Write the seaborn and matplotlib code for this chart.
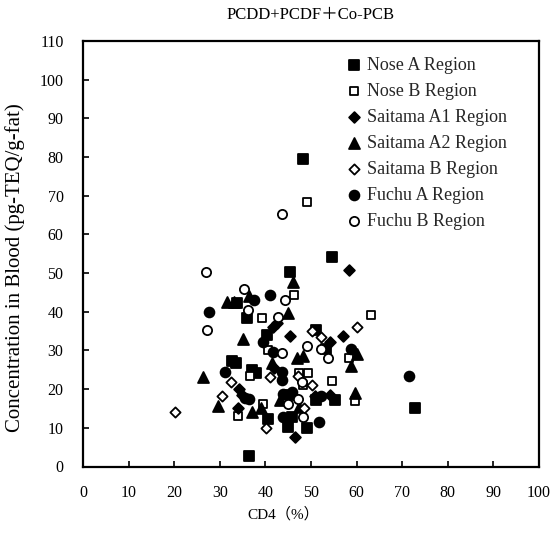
import matplotlib
matplotlib.use("Agg")
import matplotlib.pyplot as plt
import seaborn as sns
import pandas as pd

# CD4 (%) vs. blood concentration (pg-TEQ/g-fat) by survey region
regions = ["Nose A Region", "Nose B Region", "Saitama A1 Region", "Saitama A2 Region",
           "Saitama B Region", "Fuchu A Region", "Fuchu B Region"]

nose_a_x = [48.3, 54.5, 45.4, 51.2, 53.3, 36.0, 33.8, 40.3, 32.6, 33.6, 37.0, 38.0,
            45.4, 51.2, 55.3, 45.9, 45.0, 49.1, 40.5, 36.4, 72.7]
nose_a_y = [79.4, 54.2, 50.3, 35.3, 30.5, 38.3, 42.2, 34.0, 27.3, 26.7, 24.9, 24.2,
            18.5, 17.2, 17.2, 12.9, 10.3, 9.9, 12.2, 2.7, 15.2]

nose_b_x = [49.1, 46.3, 63.2, 39.2, 40.6, 58.4, 54.5, 47.3, 49.3, 48.3, 36.6, 39.5,
            34.1, 59.6]
nose_b_y = [68.4, 44.3, 39.1, 38.3, 30.1, 28.1, 22.1, 24.3, 24.2, 21.1, 23.3, 16.1,
            13.0, 17.0]

saitama_a1_x = [58.3, 57.0, 45.3, 54.2, 42.5, 41.6, 34.3, 34.8, 33.9, 46.6, 50.8,
                54.2, 41.8]
saitama_a1_y = [50.8, 33.7, 33.8, 32.3, 37.0, 36.0, 20.0, 18.5, 15.0, 7.7, 18.2,
                18.4, 25.5]

saitama_a2_x = [31.6, 33.2, 36.5, 46.0, 45.0, 35.0, 26.4, 29.7, 37.0, 39.0, 47.4,
                46.9, 48.3, 60.1, 58.7, 59.6, 41.4, 43.2]
saitama_a2_y = [42.6, 42.6, 44.2, 47.8, 39.8, 32.9, 23.1, 15.6, 14.2, 15.0, 15.3,
                28.0, 28.6, 29.1, 26.1, 18.9, 26.7, 17.2]

saitama_b_x = [20.2, 30.4, 32.4, 40.1, 41.0, 47.1, 50.3, 48.5, 50.3, 52.2, 60.1]
saitama_b_y = [14.2, 18.2, 21.9, 9.9, 23.2, 23.3, 21.1, 15.0, 35.1, 33.6, 36.0]

fuchu_a_x = [27.6, 37.4, 41.0, 39.5, 31.1, 35.5, 36.3, 43.7, 43.7, 43.9, 45.9, 43.9,
             51.8, 52.3, 58.7, 71.5, 41.7]
fuchu_a_y = [40.0, 43.0, 44.4, 32.3, 24.4, 17.8, 17.5, 24.5, 22.3, 18.8, 19.2, 12.9,
             11.6, 18.2, 30.3, 23.4, 29.5]

fuchu_b_x = [43.6, 26.9, 27.1, 35.2, 36.2, 42.8, 44.3, 43.6, 49.1, 52.3, 53.7, 48.0,
             45.0, 47.2, 48.2]
fuchu_b_y = [65.4, 50.3, 35.4, 46.0, 40.4, 38.6, 43.0, 29.4, 31.1, 30.3, 28.1, 21.9,
             16.1, 17.4, 12.9]

series_x = [nose_a_x, nose_b_x, saitama_a1_x, saitama_a2_x, saitama_b_x, fuchu_a_x, fuchu_b_x]
series_y = [nose_a_y, nose_b_y, saitama_a1_y, saitama_a2_y, saitama_b_y, fuchu_a_y, fuchu_b_y]

x_ticks = list(range(0, 101, 10))
y_ticks = list(range(0, 111, 10))

frames = []
for name, xs, ys in zip(regions, series_x, series_y):
    frames.append(pd.DataFrame({"cd4": xs, "conc": ys, "region": name}))
df = pd.concat(frames, ignore_index=True)

sns.set_theme(style="white")
plt.rcParams["font.family"] = ["Liberation Serif", "Noto Sans CJK JP", "DejaVu Sans"]

fig = plt.figure(figsize=(5.55, 5.45), dpi=100)
ax = fig.add_axes([83 / 555, 1 - 466.5 / 545, 456 / 555, 425.5 / 545])

styles = {
    "Nose A Region": dict(marker="s", fc="black", s=44),
    "Nose B Region": dict(marker="s", fc="white", s=40),
    "Saitama A1 Region": dict(marker="D", fc="black", s=30),
    "Saitama A2 Region": dict(marker="^", fc="black", s=62),
    "Saitama B Region": dict(marker="D", fc="white", s=27),
    "Fuchu A Region": dict(marker="o", fc="black", s=50),
    "Fuchu B Region": dict(marker="o", fc="white", s=44),
}

for name in regions:
    st = styles[name]
    sns.scatterplot(data=df[df["region"] == name], x="cd4", y="conc", ax=ax,
                    marker=st["marker"], s=st["s"], facecolor=st["fc"],
                    edgecolor="black", linewidth=1.3, label=name, zorder=3)

ax.set_xlim(0, 100)
ax.set_ylim(0, 110)
ax.set_xticks(x_ticks)
ax.set_yticks(y_ticks)
ax.tick_params(axis="both", direction="in", length=4, width=1.2, color="black",
               labelsize=11.5, labelcolor="black", bottom=True, left=True,
               top=False, right=False)
ax.tick_params(axis="x", pad=13)
ax.tick_params(axis="y", pad=14)
for sp in ax.spines.values():
    sp.set_visible(True)
    sp.set_color("black")
    sp.set_linewidth(1.6)

ax.set_xlabel("CD4（%）", fontsize=11, color="black")
ax.xaxis.set_label_coords(0.439, -0.095)
ax.set_ylabel("Concentration in Blood (pg-TEQ/g-fat)", fontsize=15, color="black")
ax.yaxis.set_label_coords(-0.128, 0.467)
ax.set_title("PCDD+PCDF＋Co-PCB", fontsize=12, color="black", pad=15.5)

leg = ax.legend(loc="upper left", bbox_to_anchor=(0.552, 0.984), frameon=False,
                fontsize=13, handletextpad=0.2, labelspacing=0.5,
                borderpad=0, handlelength=1.1, scatterpoints=1)

fig.savefig("out.png", dpi=100)
